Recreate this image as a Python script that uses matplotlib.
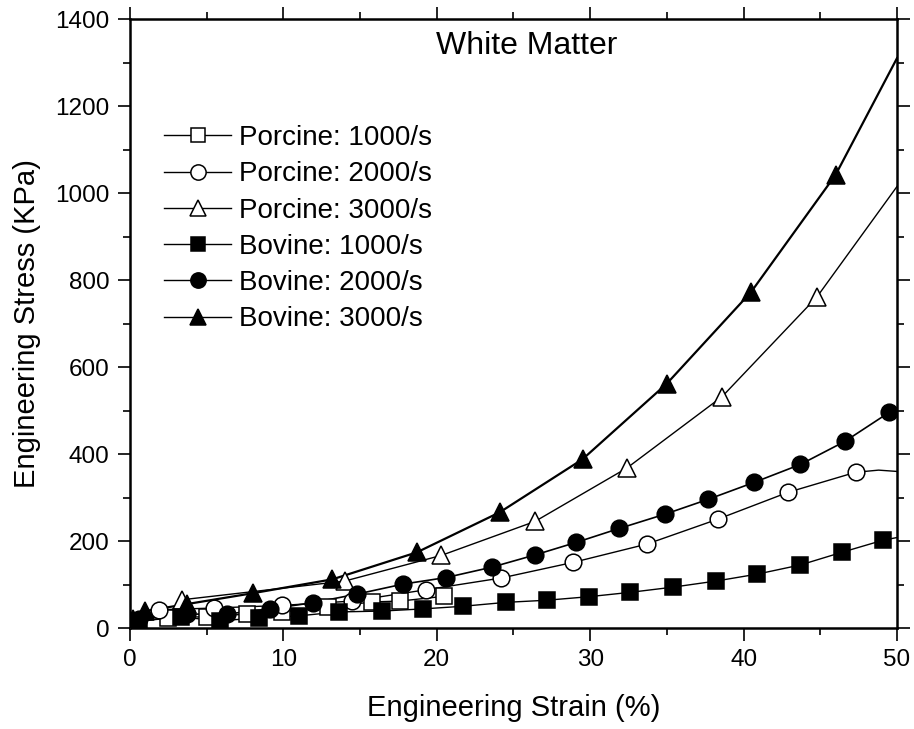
import numpy as np
import matplotlib
matplotlib.use("Agg")
import matplotlib.pyplot as plt
from matplotlib.ticker import MultipleLocator

plt.rcParams['font.family'] = ['Liberation Sans', 'DejaVu Sans']

# Porcine (open markers)
por1000_x = [0.3, 2.5, 5.0, 7.6, 9.9, 12.9, 15.8, 17.6, 20.5]
por1000_y = [14, 24, 26, 32, 37, 48, 60, 62, 73]

por2000_x = [1.9, 5.5, 9.9, 14.5, 19.3, 24.2, 28.9, 33.7, 38.3, 42.9, 47.3]
por2000_y = [42, 46, 52, 62, 88, 115, 151, 193, 250, 312, 358]
por2000_tail_x = [48.8, 50.0]
por2000_tail_y = [363, 360]

por3000_x = [3.4, 14.0, 20.3, 26.4, 32.4, 38.6, 44.8]
por3000_y = [65, 108, 167, 245, 368, 532, 762]
por3000_tail_x = [50.0]
por3000_tail_y = [1015]

# Bovine (filled markers)
bov1000_x = [0.6, 3.3, 5.9, 8.4, 11.0, 13.6, 16.4, 19.1, 21.7, 24.5, 27.2, 29.9,
             32.6, 35.4, 38.2, 40.9, 43.7, 46.4, 49.1]
bov1000_y = [16, 25, 17, 23, 28, 37, 39, 44, 50, 59, 64, 72,
             82, 94, 108, 124, 145, 174, 202]
bov1000_tail_x = [50.0]
bov1000_tail_y = [208]

bov2000_x = [0.6, 3.7, 6.3, 9.1, 11.9, 14.8, 17.8, 20.6, 23.6, 26.4, 29.1, 31.9,
             34.9, 37.7, 40.7, 43.7, 46.6, 49.5]
bov2000_y = [20, 32, 32, 44, 58, 78, 101, 116, 140, 168, 197, 229,
             262, 296, 335, 376, 429, 496]
bov2000_tail_x = [50.0]
bov2000_tail_y = [505]

bov3000_x = [0.2, 1.0, 3.7, 8.0, 13.2, 18.7, 24.1, 29.5, 35.0, 40.5, 46.0]
bov3000_y = [20, 39, 55, 80, 112, 174, 266, 388, 562, 773, 1042]
bov3000_tail_x = [50.0]
bov3000_tail_y = [1310]

fig = plt.figure(figsize=(9.14, 7.29), dpi=100)
ax = fig.add_axes([0.1422, 0.1385, 0.8392, 0.8354])

series = [
    ('Porcine: 1000/s', por1000_x, por1000_y, [], [], 's', 'white', 11, 1.0),
    ('Porcine: 2000/s', por2000_x, por2000_y, por2000_tail_x, por2000_tail_y, 'o', 'white', 12, 1.0),
    ('Porcine: 3000/s', por3000_x, por3000_y, por3000_tail_x, por3000_tail_y, '^', 'white', 13, 1.0),
    ('Bovine: 1000/s', bov1000_x, bov1000_y, bov1000_tail_x, bov1000_tail_y, 's', 'black', 11, 1.0),
    ('Bovine: 2000/s', bov2000_x, bov2000_y, bov2000_tail_x, bov2000_tail_y, 'o', 'black', 12, 1.2),
    ('Bovine: 3000/s', bov3000_x, bov3000_y, bov3000_tail_x, bov3000_tail_y, '^', 'black', 13, 1.6),
]

for label, xs, ys, tx, ty, mk, fc, ms, lw in series:
    ax.plot(list(xs) + list(tx), list(ys) + list(ty), color='black', lw=lw, zorder=2)
    ax.plot(xs, ys, linestyle='none', marker=mk, markersize=ms,
            markerfacecolor=fc, markeredgecolor='black', markeredgewidth=1.1, zorder=3)
    # legend handle
    ax.plot([], [], color='black', lw=1.0, marker=mk, markersize=ms - 1,
            markerfacecolor=fc, markeredgecolor='black', markeredgewidth=1.1, label=label)

ax.set_xlim(0, 50)
ax.set_ylim(0, 1400)
ax.xaxis.set_major_locator(MultipleLocator(10))
ax.xaxis.set_minor_locator(MultipleLocator(5))
ax.yaxis.set_major_locator(MultipleLocator(200))
ax.yaxis.set_minor_locator(MultipleLocator(100))

ax.tick_params(which='both', direction='out', top=True, right=True,
               labeltop=False, labelright=False, width=1.2, labelsize=17.5)
ax.tick_params(which='major', length=9, pad=6)
ax.tick_params(which='minor', length=5)
for s in ax.spines.values():
    s.set_linewidth(1.8)

ax.set_xlabel('Engineering Strain (%)', fontsize=21, labelpad=17)
ax.set_ylabel('Engineering Stress (KPa)', fontsize=21, labelpad=10)

ax.text(0.517, 0.956, 'White Matter', transform=ax.transAxes,
        ha='center', va='center', fontsize=23)

ax.legend(loc='upper left', bbox_to_anchor=(0.045, 0.826), frameon=False,
          fontsize=20, handlelength=2.4, handletextpad=0.3, labelspacing=0.37,
          borderpad=0, borderaxespad=0)

fig.savefig('out.png', dpi=100)
